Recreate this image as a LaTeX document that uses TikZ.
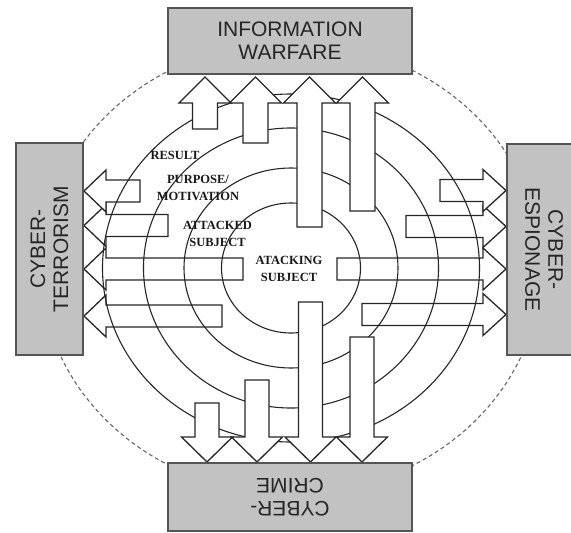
\documentclass[tikz,border=0pt]{standalone}
\usepackage{fontspec}
\setmainfont{Liberation Serif}
\newfontfamily\boxfont{Liberation Sans}
\definecolor{boxgray}{RGB}{194,194,194}
\definecolor{boxedge}{RGB}{85,85,85}

% arrow shapes: stem centre, free end of the stem
\newcommand{\ArrowUp}[2]{%
  \draw[shaft] (#1-12.5,#2) -- (#1-12.5,103) -- (#1-26,103) -- (#1,77)
    -- (#1+26,103) -- (#1+12.5,103) -- (#1+12.5,#2) -- cycle;}
\newcommand{\ArrowDown}[2]{%
  \draw[shaft] (#1-12,#2) -- (#1-12,437) -- (#1-25.5,437) -- (#1,462)
    -- (#1+25.5,437) -- (#1+12,437) -- (#1+12,#2) -- cycle;}
\newcommand{\ArrowLeft}[2]{%
  \draw[shaft] (#2,#1-11) -- (106,#1-11) -- (106,#1-21) -- (84,#1)
    -- (106,#1+21) -- (106,#1+11) -- (#2,#1+11) -- cycle;}
\newcommand{\ArrowRight}[2]{%
  \draw[shaft] (#2,#1-11) -- (483,#1-11) -- (483,#1-21) -- (506,#1)
    -- (483,#1+21) -- (483,#1+11) -- (#2,#1+11) -- cycle;}

\begin{document}
\begin{tikzpicture}[x=1pt,y=-1pt,
  ring/.style={draw=black!85, line width=1.1pt},
  outline/.style={draw=black!60, line width=1.1pt, dash pattern=on 4pt off 3pt},
  shaft/.style={draw=black!85, fill=white, line width=1.3pt, line join=miter},
  theme/.style={draw=boxedge, fill=boxgray, line width=1.3pt, inner sep=0pt,
    align=center, text=black!85, font=\boxfont\fontsize{21}{23}\selectfont},
  tier/.style={align=center, text=black!90, inner sep=0pt,
    font=\bfseries\fontsize{12.5}{16.5}\selectfont}]
\clip (0,0) rectangle (571,533);
\useasboundingbox (0,0) rectangle (571,533);

% dashed outline behind the four themes
\draw[outline] (291,268) ellipse [x radius=250pt, y radius=226pt];

% arrows towards the left
\ArrowLeft{316}{222}
\ArrowLeft{269}{243}
\ArrowLeft{225.5}{168}
\ArrowLeft{191}{140}
% arrows towards the right
\ArrowRight{314.5}{362}
\ArrowRight{269}{337}
\ArrowRight{226.5}{406}
\ArrowRight{190.5}{440}

% concentric rings
\coordinate (core) at (291,268);
\draw[ring] (core) ellipse [x radius=188.5pt, y radius=174pt];
\draw[ring] (core) ellipse [x radius=147.5pt, y radius=140pt];
\draw[ring] (core) ellipse [x radius=107pt, y radius=100pt];
\draw[ring] (core) ellipse [x radius=69.5pt, y radius=65pt];

% arrows towards the top
\ArrowUp{205}{129}
\ArrowUp{255.5}{143}
\ArrowUp{309.5}{227}
\ArrowUp{362.5}{211}
% arrows towards the bottom
\ArrowDown{207}{403}
\ArrowDown{257}{380}
\ArrowDown{310.5}{302}
\ArrowDown{362}{337}

% themes
\node[theme, minimum width=244pt, minimum height=66pt] (warfare) at (290,41)
  {INFORMATION\\WARFARE};
\node[theme, rotate=90, minimum width=212pt, minimum height=67pt] (terror) at (49.5,249)
  {CYBER-\\TERRORISM};
\node[theme, rotate=-90, minimum width=211pt, minimum height=74pt] (espionage) at (544,249.5)
  {CYBER-\\ESPIONAGE};
\node[theme, rotate=180, minimum width=244pt, minimum height=68pt] (crime) at (290,497)
  {CYBER-\\CRIME};

% ring labels
\node[tier] (result) at (175,155) {RESULT};
\node[tier] (purpose) at (198,188) {PURPOSE/\\MOTIVATION};
\node[tier] (attacked) at (217.5,234) {ATTACKED\\SUBJECT};
\node[tier] (attacking) at (289,269) {ATACKING\\SUBJECT};
\end{tikzpicture}
\end{document}
